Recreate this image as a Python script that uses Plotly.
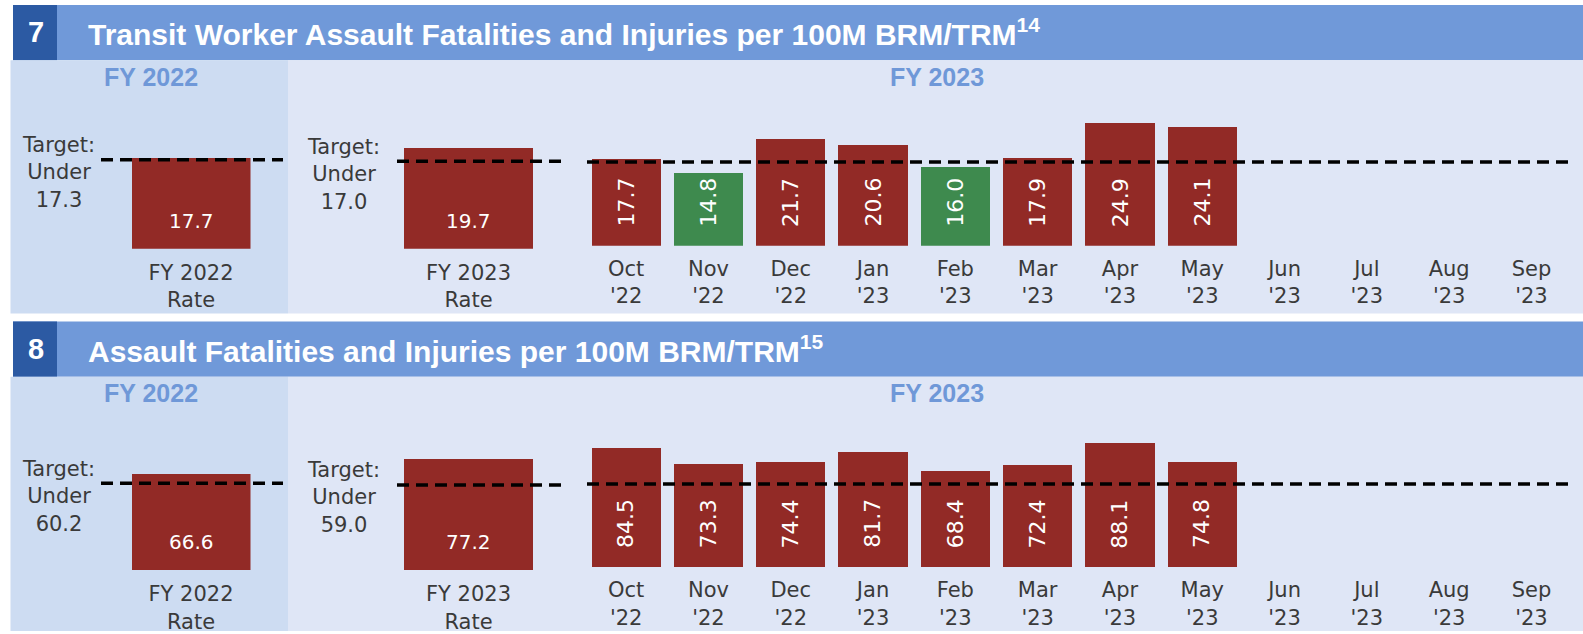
import plotly.graph_objects as go

W, H = 1583, 634

# ---------------- data ----------------
month_labels = ["Oct<br>'22", "Nov<br>'22", "Dec<br>'22", "Jan<br>'23", "Feb<br>'23", "Mar<br>'23",
                "Apr<br>'23", "May<br>'23", "Jun<br>'23", "Jul<br>'23", "Aug<br>'23", "Sep<br>'23"]
fy22_label = "FY 2022<br>Rate"
fy23_label = "FY 2023<br>Rate"

p7_number = "7"
p7_title = "Transit Worker Assault Fatalities and Injuries per 100M BRM/TRM<sup>14</sup>"
p7_fy22_rate = 17.7
p7_fy22_target = 17.3
p7_fy23_rate = 19.7
p7_fy23_target = 17.0
p7_monthly = [17.7, 14.8, 21.7, 20.6, 16.0, 17.9, 24.9, 24.1]

p8_number = "8"
p8_title = "Assault Fatalities and Injuries per 100M BRM/TRM<sup>15</sup>"
p8_fy22_rate = 66.6
p8_fy22_target = 60.2
p8_fy23_rate = 77.2
p8_fy23_target = 59.0
p8_monthly = [84.5, 73.3, 74.4, 81.7, 68.4, 72.4, 88.1, 74.8]

# ---------------- style ----------------
RED = "#922A26"
GREEN = "#3E8A4E"
HEADER = "#7099D9"
NUMBOX = "#2C5AA3"
FY22_BG = "#CDDCF2"
FY23_BG = "#DFE6F6"
FYTXT = "#6F98D8"
TXT = "#3A3A3A"
BODY_FONT = "Century Gothic, DejaVu Sans, sans-serif"
HEAD_FONT = "Liberation Sans, Arial, sans-serif"


def px(x):
    return x / W


def py(y):
    return 1 - y / H


panels = [
    dict(num=p7_number, title=p7_title, fy22=(p7_fy22_rate, p7_fy22_target),
         fy23=(p7_fy23_rate, p7_fy23_target), monthly=p7_monthly,
         top=5, body_bottom=315, R=27, fy_base=250, fy_scale=5.17, m_base=247, m_scale=4.95),
    dict(num=p8_number, title=p8_title, fy22=(p8_fy22_rate, p8_fy22_target),
         fy23=(p8_fy23_rate, p8_fy23_target), monthly=p8_monthly,
         top=323, body_bottom=634, R=95, fy_base=573, fy_scale=1.454, m_base=570, m_scale=1.42),
]

fig = go.Figure()
shapes = []
annotations = []
layout_axes = {}

for i, P in enumerate(panels):
    t = P["top"]
    hb = t + 55.5  # header bottom
    shapes.append(dict(type="rect", xref="paper", yref="paper", x0=px(13), x1=px(W), y0=py(hb), y1=py(t),
                       fillcolor=HEADER, line_width=0, layer="below"))
    shapes.append(dict(type="rect", xref="paper", yref="paper", x0=px(13), x1=px(57), y0=py(hb), y1=py(t),
                       fillcolor=NUMBOX, line_width=0, layer="below"))
    shapes.append(dict(type="rect", xref="paper", yref="paper", x0=px(10.5), x1=px(288), y0=py(P["body_bottom"]),
                       y1=py(hb), fillcolor=FY22_BG, line_width=0, layer="below"))
    shapes.append(dict(type="rect", xref="paper", yref="paper", x0=px(288), x1=px(W), y0=py(P["body_bottom"]),
                       y1=py(hb), fillcolor=FY23_BG, line_width=0, layer="below"))
    annotations.append(dict(xref="paper", yref="paper", x=px(35.5), y=py(t + 27.5), text="<b>%s</b>" % P["num"],
                            showarrow=False, font=dict(family=HEAD_FONT, size=29, color="white"),
                            xanchor="center", yanchor="middle"))
    annotations.append(dict(xref="paper", yref="paper", x=px(86), y=py(t + 27.5), text="<b>%s</b>" % P["title"],
                            showarrow=False, font=dict(family=HEAD_FONT, size=30, color="white"),
                            xanchor="left", yanchor="middle"))
    annotations.append(dict(xref="paper", yref="paper", x=px(151), y=py(t + 72), text="<b>FY 2022</b>",
                            showarrow=False, font=dict(family=HEAD_FONT, size=25, color=FYTXT),
                            xanchor="center", yanchor="middle"))
    annotations.append(dict(xref="paper", yref="paper", x=px(937), y=py(t + 72), text="<b>FY 2023</b>",
                            showarrow=False, font=dict(family=HEAD_FONT, size=25, color=FYTXT),
                            xanchor="center", yanchor="middle"))

    n1, n2, n3 = 3 * i + 1, 3 * i + 2, 3 * i + 3
    ax = lambda n: "" if n == 1 else str(n)

    for n, lab, (rate, target), bx0, bx1, tx, dx0, dx1 in [
        (n1, fy22_label, P["fy22"], 131.5, 250.5, 58, 101, 283),
        (n2, fy23_label, P["fy23"], 404, 533, 343, 397, 565),
    ]:
        fig.add_trace(go.Bar(x=[lab], y=[rate], width=[1], marker=dict(color=RED, line=dict(width=0)),
                             xaxis="x" + ax(n), yaxis="y" + ax(n), showlegend=False, hoverinfo="skip"))
        layout_axes["xaxis" + ax(n)] = dict(domain=[px(bx0), px(bx1)], range=[-0.5, 0.5], type="category",
                                            anchor="y" + ax(n), showgrid=False, zeroline=False, showline=False,
                                            ticks="", ticklabelstandoff=9,
                                            tickfont=dict(family=BODY_FONT, size=21, color=TXT), fixedrange=True)
        yb = P["fy_base"]
        layout_axes["yaxis" + ax(n)] = dict(domain=[py(yb), py(yb - P["R"] * P["fy_scale"])], range=[0, P["R"]],
                                            anchor="x" + ax(n), visible=False, fixedrange=True)
        annotations.append(dict(xref="x" + ax(n), yref="y" + ax(n), x=lab, y=0, text=f"{rate:.1f}",
                                showarrow=False, yanchor="bottom", yshift=14,
                                font=dict(family=BODY_FONT, size=20, color="white")))
        shapes.append(dict(type="line", xref="paper", yref="y" + ax(n), x0=px(dx0), x1=px(dx1), y0=target,
                           y1=target, line=dict(color="black", width=3.5, dash="12px,7px")))
        annotations.append(dict(xref="paper", yref="paper", x=px(tx), y=py(yb - target * P["fy_scale"] + 13),
                                text=f"Target:<br>Under<br>{target:.1f}", showarrow=False,
                                xanchor="center", yanchor="middle", align="center",
                                font=dict(family=BODY_FONT, size=21, color=TXT)))

    target = P["fy23"][1]
    vals = list(P["monthly"]) + [None] * (len(month_labels) - len(P["monthly"]))
    colors = [(GREEN if (v is not None and v < target) else RED) for v in vals]
    fig.add_trace(go.Bar(x=month_labels, y=vals, width=0.84, marker=dict(color=colors, line=dict(width=0)),
                         xaxis="x" + ax(n3), yaxis="y" + ax(n3), showlegend=False, hoverinfo="skip"))
    layout_axes["xaxis" + ax(n3)] = dict(domain=[px(585), px(1572.6)], range=[-0.5, 11.5], type="category",
                                         categoryorder="array", categoryarray=month_labels,
                                         anchor="y" + ax(n3), showgrid=False, zeroline=False, showline=False,
                                         ticks="", ticklabelstandoff=8,
                                         tickfont=dict(family=BODY_FONT, size=21, color=TXT), fixedrange=True)
    mb = P["m_base"]
    layout_axes["yaxis" + ax(n3)] = dict(domain=[py(mb), py(mb - P["R"] * P["m_scale"])], range=[0, P["R"]],
                                         anchor="x" + ax(n3), visible=False, fixedrange=True)
    for lab, v in zip(month_labels, P["monthly"]):
        annotations.append(dict(xref="x" + ax(n3), yref="y" + ax(n3), x=lab, y=0, text=f"{v:.1f}",
                                showarrow=False, yanchor="bottom", yshift=17, textangle=-90,
                                font=dict(family=BODY_FONT, size=22, color="white")))
    shapes.append(dict(type="line", xref="paper", yref="y" + ax(n3), x0=px(587), x1=px(1574), y0=target,
                       y1=target, line=dict(color="black", width=3.5, dash="12px,7px")))

fig.update_layout(width=W, height=H, margin=dict(l=0, r=0, t=0, b=0), paper_bgcolor="white",
                  plot_bgcolor="rgba(0,0,0,0)", shapes=shapes, annotations=annotations, bargap=0,
                  **layout_axes)
fig.write_html("out.html", config={"displayModeBar": False},
               post_script="document.body.style.margin='0';document.body.style.overflow='hidden';")
